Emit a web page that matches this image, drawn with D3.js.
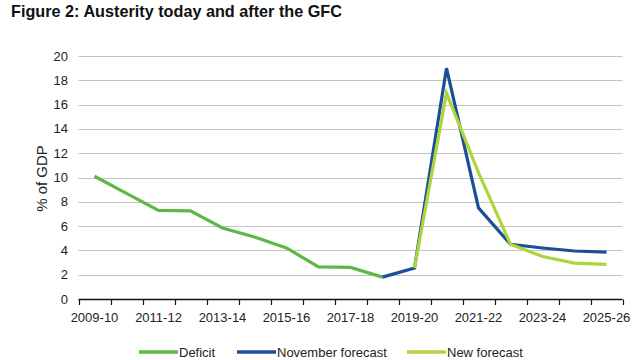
<!DOCTYPE html>
<html>
<head>
<meta charset="utf-8">
<script src="https://cdn.jsdelivr.net/npm/d3@7"></script>
<style>
  body { margin: 0; background: #fff; }
  svg { display: block; font-family: "Liberation Sans", Arial, sans-serif; }
  .grid line { stroke: #c4c4c4; stroke-width: 1; }
  .ticktext { font-size: 13px; fill: #222; }
</style>
</head>
<body>
<div id="chart"></div>
<script>
// financial years on the x axis
var years = ["2009-10", "2010-11", "2011-12", "2012-13", "2013-14", "2014-15",
  "2015-16", "2016-17", "2017-18", "2018-19", "2019-20", "2020-21", "2021-22",
  "2022-23", "2023-24", "2024-25", "2025-26"];

// deficit, % of GDP
var deficit = [10.1, 8.7, 7.3, 7.25, 5.85, 5.1, 4.2, 2.65, 2.6, 1.8,
  null, null, null, null, null, null, null];
var novemberForecast = [null, null, null, null, null, null, null, null, null, 1.8,
  2.55, 19.0, 7.5, 4.5, 4.2, 3.95, 3.85];
var newForecast = [null, null, null, null, null, null, null, null, null, null,
  2.55, 16.95, 10.4, 4.5, 3.5, 2.95, 2.85];

var yTicks = [0, 2, 4, 6, 8, 10, 12, 14, 16, 18, 20];
var xLabels = ["2009-10", "2011-12", "2013-14", "2015-16", "2017-18", "2019-20",
  "2021-22", "2023-24", "2025-26"];

var series = [
  {name: "Deficit", values: deficit, color: "#5cb947"},
  {name: "November forecast", values: novemberForecast, color: "#1b4f96"},
  {name: "New forecast", values: newForecast, color: "#afd53e"}
];

function make_chart() {
    var width = 640, height = 360;
    var svg = d3.select("#chart").append("svg")
        .attr("width", width)
        .attr("height", height);

    var xScale = d3.scaleBand()
        .domain(years)
        .range([78.5, 622.5]);
    var yScale = d3.scaleLinear()
        .domain([0, 20])
        .range([299, 56]);

    var xMid = function(c) { return xScale(c) + xScale.bandwidth()/2; };

    // title
    svg.append("text")
        .text("Figure 2: Austerity today and after the GFC")
        .attr("x", 11)
        .attr("y", 17)
        .attr("font-size", 17)
        .attr("font-weight", "bold")
        .attr("textLength", 331)
        .attr("lengthAdjust", "spacingAndGlyphs")
        .attr("fill", "#111");

    // gridlines
    svg.append("g")
        .attr("class", "grid")
        .selectAll("line")
        .data(yTicks.filter(function(d) { return d > 0; }))
        .join("line")
        .attr("x1", 78.5)
        .attr("x2", 622.5)
        .attr("y1", function(d) { return Math.round(yScale(d)) + 0.5; })
        .attr("y2", function(d) { return Math.round(yScale(d)) + 0.5; });

    // y tick labels
    svg.append("g")
        .selectAll("text")
        .data(yTicks)
        .join("text")
        .attr("class", "ticktext")
        .attr("x", 68)
        .attr("y", function(d) { return yScale(d); })
        .attr("dy", "0.35em")
        .attr("text-anchor", "end")
        .text(function(d) { return d; });

    svg.append("text")
        .text("% of GDP")
        .attr("font-size", 15)
        .attr("fill", "#222")
        .attr("transform", "translate(47,178.5) rotate(-90)")
        .attr("text-anchor", "middle");

    // x axis with ticks at band edges
    var edges = years.map(function(c) { return xScale(c); });
    edges.push(xScale.range()[1]);
    var xAxis = svg.append("g");
    xAxis.append("line")
        .attr("x1", 78.5).attr("x2", 622.5)
        .attr("y1", 299.5).attr("y2", 299.5)
        .attr("stroke", "#111").attr("stroke-width", 1.5);
    xAxis.selectAll(".tick")
        .data(edges)
        .join("line")
        .attr("class", "tick")
        .attr("x1", function(d) { return Math.round(d) + 0.5; })
        .attr("x2", function(d) { return Math.round(d) + 0.5; })
        .attr("y1", 299.5).attr("y2", 305)
        .attr("stroke", "#111").attr("stroke-width", 1.2);
    xAxis.selectAll(".lab")
        .data(xLabels)
        .join("text")
        .attr("class", "ticktext lab")
        .attr("x", function(d) { return xMid(d); })
        .attr("y", 322)
        .attr("text-anchor", "middle")
        .text(function(d) { return d; });

    // lines
    var line = d3.line()
        .defined(function(d) { return d.v !== null; })
        .x(function(d) { return xMid(d.c); })
        .y(function(d) { return yScale(d.v); });

    series.forEach(function(s) {
        var pts = years.map(function(c, i) { return {c: c, v: s.values[i]}; });
        svg.append("path")
            .datum(pts)
            .attr("d", line)
            .attr("fill", "none")
            .attr("stroke", s.color)
            .attr("stroke-width", 3.2);
    });

    // legend
    var legendX = [139, 237, 407];
    var legend = svg.append("g");
    series.forEach(function(s, i) {
        legend.append("line")
            .attr("x1", legendX[i]).attr("x2", legendX[i] + 39)
            .attr("y1", 352).attr("y2", 352)
            .attr("stroke", s.color)
            .attr("stroke-width", 3.5);
        legend.append("text")
            .attr("class", "ticktext")
            .attr("x", legendX[i] + 40)
            .attr("y", 352)
            .attr("dy", "0.35em")
            .text(s.name);
    });
}

make_chart();
</script>
</body>
</html>
